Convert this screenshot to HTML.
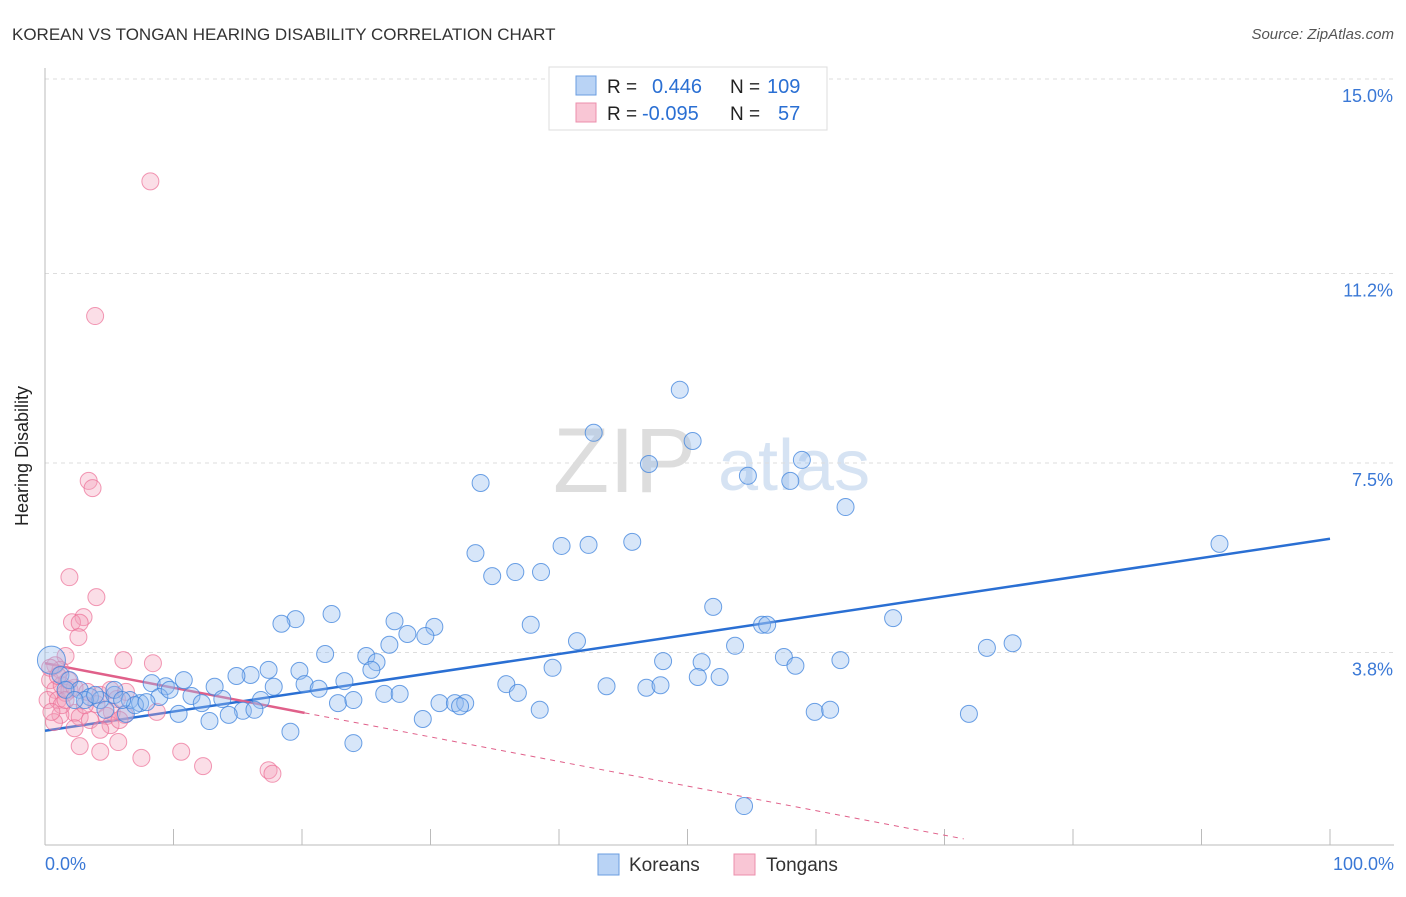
<!DOCTYPE html>
<html><head><meta charset="utf-8"><style>
body{margin:0;background:#fff;font-family:"Liberation Sans",sans-serif}
svg text{font-family:"Liberation Sans",sans-serif}
</style></head><body>
<svg id="chart" width="1406" height="892">
<text x="12" y="40" font-size="17" fill="#333">KOREAN VS TONGAN HEARING DISABILITY CORRELATION CHART</text>
<text x="1394" y="39" font-size="15" fill="#555" font-style="italic" text-anchor="end">Source: ZipAtlas.com</text>
<text x="28" y="456" font-size="18" fill="#222" text-anchor="middle" transform="rotate(-90 28 456)">Hearing Disability</text>
<g>
<text x="553" y="492" font-size="92" font-family="Liberation Serif" fill="#ddd">ZIP</text>
<text x="718" y="490" font-size="72" fill="#d6e3f3">atlas</text>
</g>
<g id="grid"></g><g id="axes"></g><g id="trend"></g><g id="pts"></g>
<g>
<rect x="549" y="67" width="278" height="63" fill="#fff" stroke="#ddd"/>
<rect x="576" y="76" width="20" height="19" fill="#b9d3f5" stroke="#6a9de0"/>
<rect x="576" y="103" width="20" height="19" fill="#f9c6d5" stroke="#ec8fac"/>
<text x="607" y="93" font-size="19" fill="#222">R =</text><text x="652" y="93" font-size="20" fill="#2a6fd3">0.446</text>
<text x="730" y="93" font-size="19" fill="#222">N =</text><text x="767" y="93" font-size="20" fill="#2a6fd3">109</text>
<text x="607" y="120" font-size="19" fill="#222">R =</text><text x="642" y="120" font-size="20" fill="#2a6fd3">-0.095</text>
<text x="730" y="120" font-size="19" fill="#222">N =</text><text x="778" y="120" font-size="20" fill="#2a6fd3">57</text>
</g>
<g>
<rect x="598" y="854" width="21" height="21" fill="#b9d3f5" stroke="#6a9de0"/>
<text x="629" y="871" font-size="19" fill="#333">Koreans</text>
<rect x="734" y="854" width="21" height="21" fill="#f9c6d5" stroke="#ec8fac"/>
<text x="766" y="871" font-size="19" fill="#333">Tongans</text>
</g>
</svg>
<script>
const yTicks=[3.8,7.5,11.2,15.0];
const yTickLabels=["3.8%","7.5%","11.2%","15.0%"];
const xTickVals=[0,10,20,30,40,50,60,70,80,90,100];
const koreanX=[49.4,42.7,50.4,47.0,33.9,54.7,58.9,58.0,62.3,91.4,33.5,40.2,42.3,45.7,34.8,36.6,38.6,52.0,19.5,18.4,22.3,27.2,30.3,28.2,29.6,37.8,41.4,55.8,56.2,66.0,73.3,75.3,26.8,21.8,25.0,25.8,25.4,39.5,48.1,51.1,53.7,57.5,58.4,61.9,19.8,17.4,16.0,14.9,10.8,8.3,9.4,23.3,20.2,21.3,17.8,35.9,36.8,43.7,46.8,47.9,50.8,52.5,26.4,27.6,13.2,11.4,13.8,16.8,12.2,22.8,24.0,30.7,31.9,32.7,32.3,38.5,59.9,61.1,71.9,15.4,16.3,14.3,10.4,12.8,6.3,29.4,19.1,24.0,54.4,0.5,1.2,1.9,2.7,3.5,4.3,5.4,6.6,7.4,8.9,5.4,7.0,7.9,4.7,9.7,6.0,3.1,1.6,2.3,3.9];
const koreanY=[8.93,8.09,7.93,7.48,7.11,7.25,7.56,7.15,6.64,5.92,5.74,5.88,5.90,5.96,5.29,5.37,5.37,4.69,4.45,4.36,4.55,4.41,4.30,4.16,4.12,4.34,4.02,4.34,4.34,4.47,3.89,3.98,3.95,3.77,3.73,3.61,3.46,3.50,3.63,3.61,3.93,3.71,3.54,3.65,3.44,3.46,3.36,3.34,3.26,3.20,3.14,3.24,3.18,3.09,3.13,3.18,3.01,3.14,3.11,3.16,3.32,3.32,2.99,2.99,3.13,2.95,2.89,2.87,2.81,2.81,2.87,2.81,2.81,2.81,2.75,2.68,2.64,2.68,2.60,2.66,2.68,2.58,2.60,2.46,2.60,2.50,2.25,2.03,0.80,3.65,3.36,3.26,3.07,2.93,2.87,2.97,2.87,2.81,2.93,3.07,2.77,2.83,2.68,3.07,2.87,2.87,3.07,2.87,2.97];
const tonganX=[8.2,3.9,3.4,3.7,1.9,4.0,3.0,2.1,2.7,2.6,6.1,8.4,1.6,0.8,1.2,0.4,0.8,1.3,1.9,0.2,1.0,1.6,2.3,3.3,4.3,5.1,5.6,6.3,4.0,5.2,6.2,8.7,2.3,1.2,0.7,2.7,3.5,4.8,5.1,4.3,2.3,2.7,4.3,5.7,7.5,10.6,12.3,17.4,17.7,1.3,0.5,1.8,0.4,1.0,1.6,3.1,5.8];
const tonganY=[13.0,10.37,7.15,7.01,5.27,4.88,4.49,4.39,4.38,4.10,3.65,3.59,3.73,3.55,3.46,3.26,3.07,3.16,3.07,2.87,2.87,3.01,3.11,3.03,2.97,3.07,2.89,3.03,2.79,2.64,2.58,2.64,2.62,2.58,2.44,2.54,2.48,2.56,2.38,2.29,2.32,1.97,1.86,2.05,1.74,1.86,1.58,1.50,1.43,2.77,2.64,3.26,3.50,3.34,2.87,2.77,2.48];
const koreanTrend=[2.27,6.02];
const tonganTrend=[3.59,-0.048];

const NS="http://www.w3.org/2000/svg";
const X=v=>45+v*12.85, Y=v=>847-v*51.2;
function mk(tag,attrs,parent){const e=document.createElementNS(NS,tag);for(const k in attrs)e.setAttribute(k,attrs[k]);document.getElementById(parent).appendChild(e);return e;}
yTicks.forEach((t,i)=>{
 const l=mk('line',{x1:45,x2:1394,y1:Y(t),y2:Y(t),stroke:'#ddd','stroke-dasharray':'4,4'},'grid');
 
 
 const tx=mk('text',{x:1393,y:Y(t)+23,'font-size':18,fill:'#3a78d6','text-anchor':'end'},'grid');
 tx.textContent=yTickLabels[i];
 
 
});
const ax=mk('line',{x1:45,x2:1394,y1:845,y2:845,stroke:'#bbb'},'axes');


const ay=mk('line',{x1:45,x2:45,y1:68,y2:845,stroke:'#bbb'},'axes');


xTickVals.forEach(t=>{
 const l=mk('line',{x1:X(t),x2:X(t),y1:829,y2:845,stroke:'#bbb'},'axes');
 
 
});
const xl=mk('text',{x:45,y:870,'font-size':18,fill:'#3a78d6'},'axes');xl.textContent='0.0%';


const xr=mk('text',{x:1394,y:870,'font-size':18,fill:'#3a78d6','text-anchor':'end'},'axes');xr.textContent='100.0%';



tonganX.forEach((x,i)=>{
 const c=mk('circle',{cx:X(x),cy:Y(tonganY[i]),r:8.5,fill:'rgba(244,160,185,0.35)',stroke:'rgba(236,110,150,0.7)','stroke-width':1},'pts');
 
 
});
koreanX.forEach((x,i)=>{
 const c=mk('circle',{cx:X(x),cy:Y(koreanY[i]),r:i==89?14:8.5,fill:'rgba(150,190,240,0.38)',stroke:'rgba(60,130,220,0.75)','stroke-width':1},'pts');
 
 
});
const kt=mk('line',{x1:X(0),y1:Y(koreanTrend[0]),x2:X(100),y2:Y(koreanTrend[1]),stroke:'#2a6fd3','stroke-width':2.5},'trend');


const tv=x=>tonganTrend[0]+tonganTrend[1]*x;
const tt=mk('line',{x1:X(0),y1:Y(tv(0)),x2:X(20.2),y2:Y(tv(20.2)),stroke:'#e0608a','stroke-width':2.5},'trend');


const td=mk('line',{x1:X(20.2),y1:Y(tv(20.2)),x2:X(71.5),y2:Y(tv(71.5)),stroke:'#e0608a','stroke-width':1,'stroke-dasharray':'5,5'},'trend');


</script>
</body></html>
